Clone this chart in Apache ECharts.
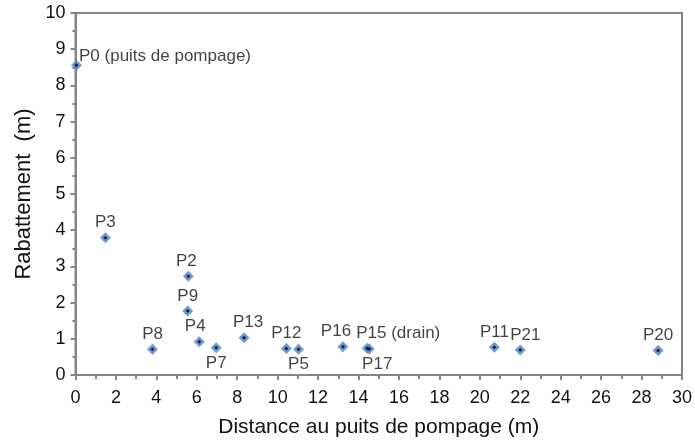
<!DOCTYPE html>
<html>
<head>
<meta charset="utf-8">
<script src="https://cdn.jsdelivr.net/npm/echarts@6/dist/echarts.min.js"></script>
<style>
  html, body { margin: 0; padding: 0; background: #fff; }
  #chart { width: 695px; height: 445px; }
</style>
</head>
<body>
<div id="chart"></div>
<script>
// Observation wells: distance to the pumping well and drawdown
const wells = ['P0 (puits de pompage)', 'P3', 'P2', 'P9', 'P8', 'P4', 'P7', 'P13',
  'P12', 'P5', 'P16', 'P15 (drain)', 'P17', 'P11', 'P21', 'P20'];
const distance = [0.05, 1.48, 5.58, 5.55, 3.81, 6.12, 6.96, 8.34,
  10.43, 11.03, 13.23, 14.43, 14.53, 20.72, 22.0, 28.82];
const rabattement = [8.56, 3.79, 2.73, 1.77, 0.71, 0.92, 0.75, 1.03,
  0.73, 0.71, 0.78, 0.74, 0.72, 0.77, 0.69, 0.68];

const xTicks = { min: 0, max: 30, step: 2 };
const yTicks = { min: 0, max: 10, step: 1 };

// Where each well's label sits relative to its marker
const labelPlacement = {
  'P0 (puits de pompage)': { position: 'right', distance: 0, offset: [-3, -9] },
  'P7': { position: 'bottom' },
  'P5': { position: 'bottom' },
  'P17': { position: 'bottom', offset: [8, 0] },
  'P15 (drain)': { position: 'top', offset: [31, 0] },
  'P16': { position: 'top', offset: [-7, 0] },
  'P21': { position: 'top', offset: [5, 0] },
  'P13': { position: 'top', offset: [4, 0] },
  'P4': { position: 'top', offset: [-4, 0] },
  'P2': { position: 'top', offset: [-2, 0] }
};

const font = '"Liberation Sans", Arial, sans-serif';
const axisGray = '#858585';
const textColor = '#111';

const points = wells.map((name, i) => {
  const place = labelPlacement[name] || { position: 'top' };
  return {
    name: name,
    value: [distance[i], rabattement[i]],
    label: Object.assign({ distance: 1 }, place)
  };
});
const centres = wells.map((name, i) => [distance[i], rabattement[i]]);

const chart = echarts.init(document.getElementById('chart'), null, { renderer: 'canvas' });
chart.setOption({
  animation: false,
  backgroundColor: '#fff',
  grid: {
    left: 75.5, right: 11, top: 13, bottom: 70,
    show: true, borderColor: axisGray, borderWidth: 2, backgroundColor: 'transparent'
  },
  xAxis: {
    type: 'value',
    min: xTicks.min, max: xTicks.max, interval: xTicks.step,
    name: 'Distance au puits de pompage (m)',
    nameLocation: 'middle', nameGap: 42,
    nameTextStyle: { fontFamily: font, fontSize: 21, color: textColor },
    axisLine: { show: true, onZero: false, lineStyle: { color: axisGray, width: 2 } },
    axisTick: { show: true, inside: false, length: 5, lineStyle: { color: axisGray, width: 2 } },
    minorTick: { show: true, splitNumber: 2, length: 4, lineStyle: { color: axisGray, width: 2 } },
    axisLabel: { fontFamily: font, fontSize: 18, color: textColor, margin: 14 },
    splitLine: { show: false }
  },
  yAxis: {
    type: 'value',
    min: yTicks.min, max: yTicks.max, interval: yTicks.step,
    name: 'Rabattement  (m)',
    nameLocation: 'middle', nameGap: 40,
    nameTextStyle: { fontFamily: font, fontSize: 22, color: textColor },
    axisLine: { show: true, onZero: false, lineStyle: { color: axisGray, width: 2 } },
    axisTick: { show: true, inside: false, length: 5, lineStyle: { color: axisGray, width: 2 } },
    minorTick: { show: true, splitNumber: 2, length: 3, lineStyle: { color: axisGray, width: 2 } },
    axisLabel: { fontFamily: font, fontSize: 18, color: textColor, margin: 10 },
    splitLine: { show: false }
  },
  series: [{
    // blue diamond markers with the well labels
    type: 'scatter',
    symbol: 'diamond',
    symbolSize: 11,
    itemStyle: { color: '#4a82c8' },
    label: {
      show: true,
      formatter: p => p.name,
      fontFamily: font, fontSize: 17, color: textColor
    },
    data: points
  }, {
    // dark centre of each marker
    type: 'scatter',
    symbol: 'diamond',
    symbolSize: 4,
    silent: true,
    itemStyle: { color: '#000' },
    data: centres
  }]
});
</script>
</body>
</html>
